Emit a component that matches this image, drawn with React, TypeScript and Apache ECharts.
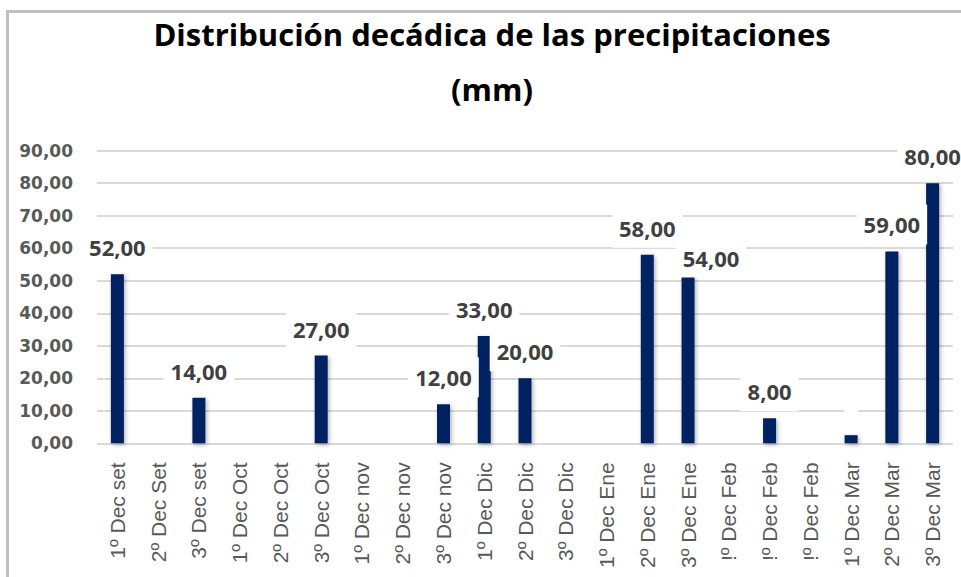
import React, { useEffect, useRef } from "react";
import * as echarts from "echarts";

const categories = [
  "1º Dec set", "2º Dec Set", "3º Dec set",
  "1º Dec Oct", "2º Dec Oct", "3º Dec Oct",
  "1º Dec nov", "2º Dec nov", "3º Dec nov",
  "1º Dec Dic", "2º Dec Dic", "3º Dec Dic",
  "1º Dec Ene", "2º Dec Ene", "3º Dec Ene",
  "!º Dec Feb", "!º Dec Feb", "!º Dec Feb",
  "1º Dec Mar", "2º Dec Mar", "3º Dec Mar",
];

// bar heights as drawn
const values = [52, 0, 14, 0, 0, 27, 0, 0, 12, 33, 20, 0, 0, 58, 51.3, 0, 7.7, 0, 2.5, 59, 80];
// printed data labels (null = no label)
const labelValues: (number | null)[] = [52, null, 14, null, null, 27, null, null, 12, 33, 20, null, null, 58, 54, null, 8, null, null, 59, 80];

const titleLine1 = "Distribución decádica de las precipitaciones";
const titleLine2 = "(mm)";

const yMin = 0;
const yMax = 90;
const yInterval = 10;

const fmt = (v: number) => v.toFixed(2).replace(".", ",");

export default function App() {
  const ref = useRef<HTMLDivElement>(null);
  useEffect(() => {
    if (!ref.current) return;
    const chart = echarts.init(ref.current, undefined, { renderer: "svg" });
    // label manually moved in the original chart
    const moved: Record<number, [number, number]> = { 14: [23, 8] };
    chart.setOption({
      animation: false,
      backgroundColor: "#ffffff",
      graphic: [
        {
          type: "rect",
          shape: { x: 7.5, y: 11.5, width: 1200, height: 800 },
          style: { fill: "none", stroke: "#bfbfbf", lineWidth: 3 },
          silent: true,
        },
        {
          type: "text",
          x: 492,
          y: 34,
          style: {
            text: titleLine1,
            align: "center",
            verticalAlign: "middle",
            font: "bold 31px 'Open Sans'",
            fill: "#000000",
          },
        },
        {
          type: "text",
          x: 492,
          y: 89,
          style: {
            text: titleLine2,
            align: "center",
            verticalAlign: "middle",
            font: "bold 31px 'Open Sans'",
            fill: "#000000",
          },
        },
      ],
      grid: { left: 97, right: 8, top: 150.7, bottom: 577 - 443.3, containLabel: false },
      xAxis: {
        type: "category",
        data: categories,
        boundaryGap: true,
        axisLine: { show: false },
        axisTick: { show: false },
        axisLabel: {
          rotate: 90,
          margin: 19,
          interval: 0,
          color: "#595959",
          fontFamily: "'Liberation Sans', Arial, sans-serif",
          fontSize: 21,
        },
      },
      yAxis: {
        type: "value",
        min: yMin,
        max: yMax,
        interval: yInterval,
        axisLine: { show: false },
        axisTick: { show: false },
        splitLine: { show: true, lineStyle: { color: "#d9d9d9", width: 2 } },
        axisLabel: {
          margin: 24,
          color: "#595959",
          fontFamily: "'DejaVu Sans', sans-serif",
          fontWeight: "bold",
          fontSize: 17,
          formatter: (v: number) => fmt(v),
        },
      },
      series: [
        {
          type: "bar",
          data: values,
          barWidth: 13,
          itemStyle: {
            color: "#002060",
            shadowColor: "rgba(0,0,0,0.3)",
            shadowBlur: 4,
            shadowOffsetX: 1.5,
            shadowOffsetY: 1.5,
          },
          label: {
            show: true,
            position: "top",
            distance: 7,
            backgroundColor: "#ffffff",
            padding: [10, 7],
            color: "#404040",
            fontFamily: "'Open Sans', sans-serif",
            fontWeight: "bold",
            fontSize: 22,
            lineHeight: 20,
            formatter: (p: any) => {
              const lv = labelValues[p.dataIndex];
              return lv === null ? "" : fmt(lv);
            },
          },
          labelLayout: (params: any) => {
            const m = moved[params.dataIndex];
            return m ? { dx: m[0], dy: m[1], hideOverlap: false } : { hideOverlap: false };
          },
        },
      ],
    });
    return () => chart.dispose();
  }, []);
  return (
    <div
      ref={ref}
      style={{ position: "fixed", left: 0, top: 0, width: 961, height: 577 }}
    />
  );
}
